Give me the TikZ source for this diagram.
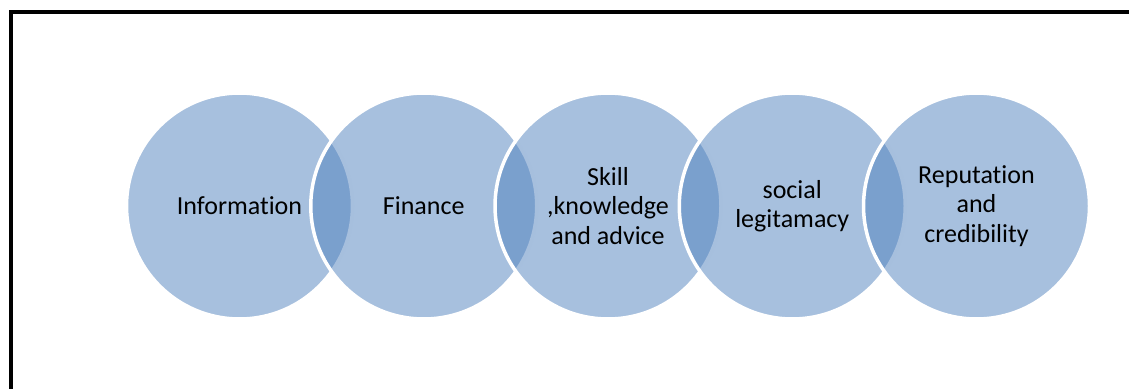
\documentclass[tikz,border=0pt]{standalone}
\usepackage{fontspec}
\setmainfont[Ligatures=NoCommon]{Carlito}
\definecolor{accent}{HTML}{4F81BD}
\begin{document}
\begin{tikzpicture}[x=1pt,y=-1pt,every node/.style={circle,draw=white,line width=3.5pt,fill=accent,fill opacity=0.5,text opacity=1,minimum size=226pt,inner sep=0pt,align=center,font=\fontsize{26}{29.5}\selectfont}]
        \useasboundingbox (0,0) rectangle (1129,388);
        \draw[line width=3.8pt] (10.8,400) -- (10.8,11.8) -- (1140,11.8);

        \node at (239.5, 206) (info) {Information};
        \node at (423.75, 206) (fin) {Finance};
        \node at (608, 206) (skill) {Skill\\,knowledge\\and advice};
        \node at (792.25, 206) (soc) {social\\legitamacy};
        \node at (976.5, 206) (rep) {Reputation\\and\\credibility};
    \end{tikzpicture}
\end{document}
